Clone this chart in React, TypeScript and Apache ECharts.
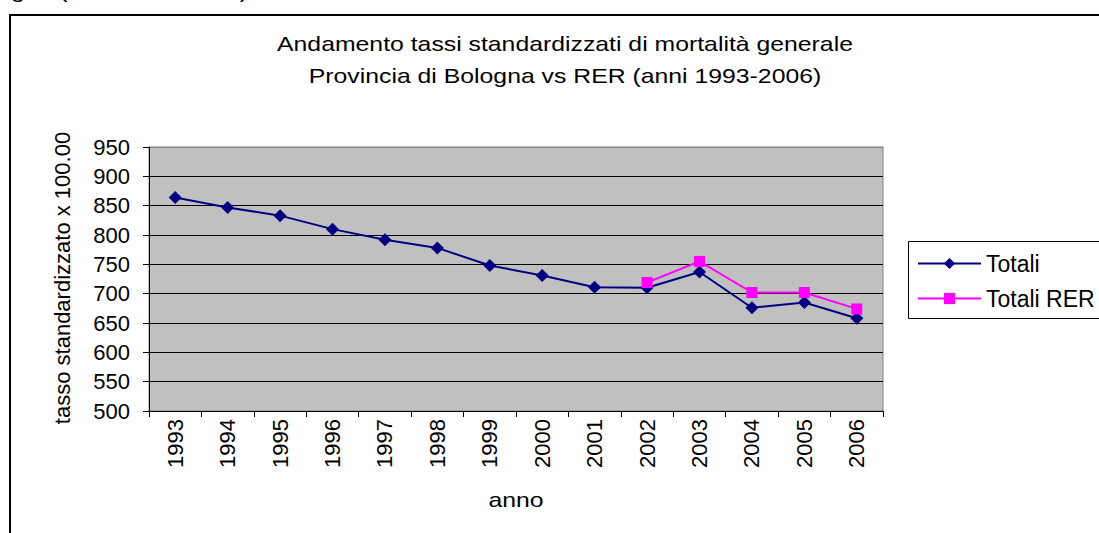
import React, { useEffect, useRef } from "react";
import * as echarts from "echarts";

const years = ["1993","1994","1995","1996","1997","1998","1999","2000","2001","2002","2003","2004","2005","2006"];
const totali = [864, 847, 833, 810, 792, 778, 748, 731, 711, 710, 737, 676, 685, 658];
const totaliRER = [null, null, null, null, null, null, null, null, null, 719, 755, 702, 702, 674];
const titleLines = ["Andamento tassi standardizzati di mortalità generale", "Provincia di Bologna vs RER (anni 1993-2006)"];
const yName = "tasso standardizzato x 100.00";
const xName = "anno";
const clippedHeader = "Bologna (anni 1993-2006)";

const FONT = "'Liberation Sans', Arial, sans-serif";
const SX = 1.24;

export default function App() {
  const ref = useRef<HTMLDivElement>(null);
  useEffect(() => {
    const chart = echarts.init(ref.current!, null, { renderer: "svg" });
    const splitColors = ["#000", "#000", "#000", "#000", "#000", "#000", "#000", "#000", "#000", "#808080"];
    chart.setOption({
      animation: false,
      backgroundColor: "#fff",
      textStyle: { fontFamily: FONT },
      grid: {
        left: 149, top: 147, width: 734, height: 264,
        show: true, backgroundColor: "#C0C0C0", borderColor: "#808080", borderWidth: 1,
      },
      xAxis: {
        type: "category",
        data: years,
        boundaryGap: true,
        axisLine: { lineStyle: { color: "#000", width: 1 } },
        axisTick: { show: true, inside: false, length: 6, alignWithLabel: false, lineStyle: { color: "#000" } },
        axisLabel: { rotate: 90, color: "#000", fontSize: 22, fontFamily: FONT, margin: 8 },
        splitLine: { show: false },
      },
      yAxis: {
        type: "value",
        min: 500, max: 950, interval: 50,
        axisLine: { show: true, lineStyle: { color: "#000", width: 1 } },
        axisTick: { show: true, inside: false, length: 6, lineStyle: { color: "#000" } },
        axisLabel: { color: "#000", fontSize: 22, fontFamily: FONT, margin: 19 },
        splitLine: { show: true, lineStyle: { color: splitColors, width: 1 } },
      },
      legend: {
        orient: "vertical",
        left: 912, top: 247,
        itemWidth: 63, itemHeight: 14, itemGap: 12,
        textStyle: { fontSize: 23, color: "#000", fontFamily: FONT },
        data: ["Totali", "Totali RER"],
      },
      series: [
        {
          name: "Totali", type: "line", data: totali,
          symbol: "diamond", symbolSize: 13,
          itemStyle: { color: "#000080" },
          lineStyle: { color: "#000080", width: 2 },
        },
        {
          name: "Totali RER", type: "line", data: totaliRER,
          symbol: "rect", symbolSize: 11,
          itemStyle: { color: "#FF00FF" },
          lineStyle: { color: "#FF00FF", width: 2 },
        },
      ],
      graphic: [
        { type: "rect", silent: true, shape: { x: 10, y: 15, width: 1200, height: 700 }, style: { fill: "none", stroke: "#000", lineWidth: 2 }, z: -1 },
        { type: "rect", silent: true, shape: { x: 908.5, y: 241.5, width: 300, height: 77 }, style: { fill: "none", stroke: "#000", lineWidth: 1 } },
        { type: "text", x: 248, y: 1, scaleX: SX, style: { text: clippedHeader, font: `20px ${FONT}`, fill: "#000", align: "right", verticalAlign: "bottom" } },
        { type: "text", x: 565, y: 44, scaleX: SX, style: { text: titleLines[0], font: `20px ${FONT}`, fill: "#000", align: "center", verticalAlign: "middle" } },
        { type: "text", x: 565, y: 76, scaleX: SX, style: { text: titleLines[1], font: `20px ${FONT}`, fill: "#000", align: "center", verticalAlign: "middle" } },
        { type: "text", x: 62, y: 278, rotation: Math.PI / 2, style: { text: yName, font: `22px ${FONT}`, fill: "#000", align: "center", verticalAlign: "middle" } },
        { type: "text", x: 516, y: 500, scaleX: SX, style: { text: xName, font: `20px ${FONT}`, fill: "#000", align: "center", verticalAlign: "middle" } },
      ],
    });
    return () => chart.dispose();
  }, []);
  return <div ref={ref} style={{ position: "fixed", left: 0, top: 0, width: 1099, height: 533 }} />;
}
